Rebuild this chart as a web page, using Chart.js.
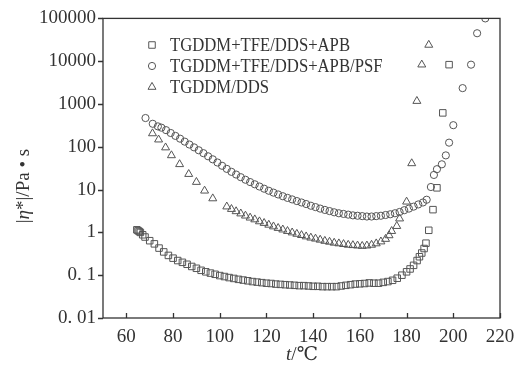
<!DOCTYPE html>
<html>
<head>
<meta charset="utf-8">
<script src="https://cdn.jsdelivr.net/npm/chart.js@4/dist/chart.umd.min.js"></script>
<style>
  html, body { margin: 0; padding: 0; background: #fff; }
</style>
</head>
<body>
<canvas id="chart" width="531" height="375"></canvas>
<script>
// tick values and their labels
const xTicks = [60, 80, 100, 120, 140, 160, 180, 200, 220];
const yTicks = [0.01, 0.1, 1, 10, 100, 1000, 10000, 100000];
const yTickLabels = ["0. 01", "0. 1", "1", "10", "100", "1000", "10000", "100000"];

const seriesNames = ["TGDDM+TFE/DDS+APB", "TGDDM+TFE/DDS+APB/PSF", "TGDDM/DDS"];

// TGDDM+TFE/DDS+APB  (squares)
const apbTemp = [
    64.5, 65, 65.5, 66, 67, 68, 70, 72, 74, 76,
    78, 80, 82, 84, 86, 88, 90, 92, 94, 96,
    98, 100, 102, 104, 106, 108, 110, 112, 114, 116,
    118, 120, 122, 124, 126, 128, 130, 132, 134, 136,
    138, 140, 142, 144, 146, 148, 150, 152, 154, 156,
    158, 160, 162, 164, 166, 168, 170, 172, 174, 176,
    178, 180, 181.5, 183, 184.5, 185.5, 186.5, 187.5, 188.3, 189.5,
    191.3, 193, 195.5, 198.2
];
const apbVisc = [
    1.15, 1.1, 1.05, 1.0, 0.88, 0.78, 0.64, 0.54, 0.43, 0.35,
    0.29, 0.25, 0.22, 0.2, 0.18, 0.16, 0.145, 0.13, 0.12, 0.112,
    0.105, 0.098, 0.093, 0.088, 0.084, 0.08, 0.077, 0.074, 0.071, 0.069,
    0.067, 0.065, 0.064, 0.062, 0.061, 0.06, 0.059, 0.058, 0.057, 0.057,
    0.056, 0.055, 0.055, 0.054, 0.054, 0.054, 0.054, 0.056, 0.058, 0.06,
    0.062, 0.063, 0.064, 0.066, 0.065, 0.065, 0.068, 0.071, 0.076, 0.085,
    0.1, 0.12, 0.14, 0.17, 0.22, 0.27, 0.33, 0.42, 0.56, 1.12,
    3.4, 11, 620, 8300
];

// TGDDM+TFE/DDS+APB/PSF  (circles)
const psfTemp = [
    68.2, 71.3, 73.5, 75, 77, 79, 81, 83, 85, 87,
    89, 91, 93, 95, 97, 99, 101, 103, 105, 107,
    109, 111, 113, 115, 117, 119, 121, 123, 125, 127,
    129, 131, 133, 135, 137, 139, 141, 143, 145, 147,
    149, 151, 153, 155, 157, 159, 161, 163, 165, 167,
    169, 171, 173, 175, 177, 179, 181, 183, 185, 187,
    188.6, 190.4, 191.7, 193, 195.1, 196.8, 198.2, 200, 204, 207.6,
    210.2, 213.7
];
const psfVisc = [
    470, 345, 300, 280, 245, 210, 180, 155, 132, 113,
    97, 83, 71, 60, 51, 43, 36, 30.5, 26, 22.5,
    19.5, 17, 15, 13.3, 11.8, 10.5, 9.4, 8.5, 7.7, 7.0,
    6.4, 5.9, 5.4, 5.0, 4.6, 4.2, 3.9, 3.6, 3.35, 3.15,
    2.95, 2.8, 2.7, 2.6, 2.5, 2.45, 2.4, 2.35, 2.35, 2.4,
    2.45, 2.55, 2.65, 2.8, 3.0, 3.3, 3.6, 4.0, 4.5, 5.0,
    5.8, 11.5, 22, 30, 39, 63, 125, 320, 2350, 8300,
    45000, 100000
];

// TGDDM/DDS  (triangles)
const ddsTemp = [
    71.2, 73.8, 76.8, 79.3, 82.8, 86.7, 90, 93.5, 97, 103,
    105, 107, 109, 111, 113, 115, 117, 119, 121, 123,
    125, 127, 129, 131, 133, 135, 137, 139, 141, 143,
    145, 147, 149, 151, 153, 155, 157, 159, 161, 163,
    165, 167, 169, 171, 172.5, 173.6, 175.8, 177, 180, 182.2,
    184.4, 186.5, 189.5
];
const ddsVisc = [
    205, 147, 96, 63, 39, 23, 15, 9.4, 6.2, 4.0,
    3.5, 3.1, 2.75, 2.45, 2.2, 2.0, 1.8, 1.65, 1.5, 1.37,
    1.26, 1.16, 1.07, 0.99, 0.92, 0.86, 0.8, 0.75, 0.71, 0.67,
    0.63, 0.6, 0.57, 0.55, 0.53, 0.51, 0.5, 0.49, 0.48, 0.49,
    0.51, 0.55, 0.61, 0.7, 0.85, 1.07, 1.4, 2.1, 5.2, 41,
    1170, 8300, 24000
];

const ink = "#333";
const markColor = "#555";
const serif = "'Liberation Serif', 'DejaVu Serif', serif";

const toPoints = (xs, ys) => xs.map((t, i) => ({ x: t, y: ys[i] }));

const markers = [
    { style: "rect", radius: 4.6 },
    { style: "circle", radius: 3.6 },
    { style: "triangle", radius: 4.6 },
];

// draw one marker the same way as the chart points
const drawMarker = (ctx, style, r, x, y) => {
    ctx.beginPath();
    if (style === "rect") {
        const s = Math.SQRT1_2 * r;
        ctx.rect(x - s, y - s, 2 * s, 2 * s);
    } else if (style === "circle") {
        ctx.arc(x, y, r, 0, Math.PI * 2);
    } else {
        ctx.moveTo(x, y - r);
        ctx.lineTo(x + Math.sin(2 * Math.PI / 3) * r, y - Math.cos(2 * Math.PI / 3) * r);
        ctx.lineTo(x + Math.sin(4 * Math.PI / 3) * r, y - Math.cos(4 * Math.PI / 3) * r);
        ctx.closePath();
    }
    ctx.stroke();
};

const framePlugin = {
    id: "frame",
    afterDraw(chart) {
        const { ctx, chartArea: a, scales } = chart;
        ctx.save();
        ctx.strokeStyle = ink;
        ctx.lineWidth = 1.3;
        ctx.strokeRect(a.left, a.top, a.right - a.left, a.bottom - a.top);

        // x ticks point inward, y ticks outward
        ctx.beginPath();
        scales.x.ticks.forEach((t) => {
            const px = Math.round(scales.x.getPixelForValue(t.value)) + 0.5;
            ctx.moveTo(px, a.bottom);
            ctx.lineTo(px, a.bottom - 5);
        });
        scales.y.ticks.forEach((t) => {
            const py = Math.round(scales.y.getPixelForValue(t.value)) + 0.5;
            ctx.moveTo(a.left - 5, py);
            ctx.lineTo(a.left, py);
        });
        ctx.stroke();

        // axis titles
        ctx.fillStyle = ink;
        ctx.textBaseline = "middle";
        const upright = "19px " + serif;
        const italic = "italic 19px " + serif;

        const drawParts = (parts, cx, cy) => {
            let total = 0;
            parts.forEach((p) => { ctx.font = p[1]; total += ctx.measureText(p[0]).width; });
            let x0 = cx - total / 2;
            parts.forEach((p) => {
                ctx.font = p[1];
                ctx.textAlign = "left";
                ctx.fillText(p[0], x0, cy);
                x0 += ctx.measureText(p[0]).width;
            });
        };

        drawParts([["t", italic], ["/℃", upright]], 302, 355);

        ctx.save();
        ctx.translate(24, 186);
        ctx.rotate(-Math.PI / 2);
        drawParts([["|", upright], ["η", italic], ["*|/Pa • s", upright]], 0, 0);
        ctx.restore();

        // legend inside the plot, text slightly condensed
        ctx.font = "19px " + serif;
        const squeeze = 180 / ctx.measureText(seriesNames[0]).width;
        chart.data.datasets.forEach((ds, i) => {
            const y = 45 + i * 21;
            ctx.strokeStyle = markColor;
            ctx.lineWidth = 1;
            drawMarker(ctx, markers[i].style, markers[i].radius, 152, y);
            ctx.save();
            ctx.translate(170, y + 1);
            ctx.scale(squeeze, 1);
            ctx.fillStyle = ink;
            ctx.textAlign = "left";
            ctx.fillText(ds.label, 0, 0);
            ctx.restore();
        });
        ctx.restore();
    },
};

const makeSet = (i, xs, ys) => ({
    label: seriesNames[i],
    data: toPoints(xs, ys),
    showLine: false,
    pointStyle: markers[i].style,
    pointRadius: markers[i].radius,
    pointHoverRadius: markers[i].radius,
    pointBorderWidth: 1,
    borderColor: markColor,
    backgroundColor: "rgba(0,0,0,0)",
});

new Chart(document.getElementById("chart"), {
    type: "scatter",
    data: {
        datasets: [
            makeSet(0, apbTemp, apbVisc),
            makeSet(1, psfTemp, psfVisc),
            makeSet(2, ddsTemp, ddsVisc),
        ],
    },
    options: {
        responsive: false,
        animation: false,
        devicePixelRatio: 1,
        layout: { padding: { top: 14, right: 31, left: 0, bottom: 0 } },
        plugins: {
            legend: { display: false },
            tooltip: { enabled: false },
        },
        scales: {
            x: {
                type: "linear",
                min: 50,
                max: 220,
                grid: { display: false, drawTicks: false },
                border: { display: false },
                afterBuildTicks: (s) => { s.ticks = xTicks.map((v) => ({ value: v })); },
                afterFit: (s) => { s.height = 57; },
                ticks: {
                    autoSkip: false,
                    maxRotation: 0,
                    padding: 8,
                    color: ink,
                    font: { family: serif, size: 19 },
                },
            },
            y: {
                type: "logarithmic",
                min: 0.01,
                max: 100000,
                grid: { display: false, drawTicks: false },
                border: { display: false },
                afterBuildTicks: (s) => { s.ticks = yTicks.map((v) => ({ value: v })); },
                afterFit: (s) => { s.width = 103; },
                ticks: {
                    autoSkip: false,
                    padding: 7,
                    color: ink,
                    font: { family: serif, size: 19 },
                    callback: (v, i) => yTickLabels[i],
                },
            },
        },
    },
    plugins: [framePlugin],
});
</script>
</body>
</html>
